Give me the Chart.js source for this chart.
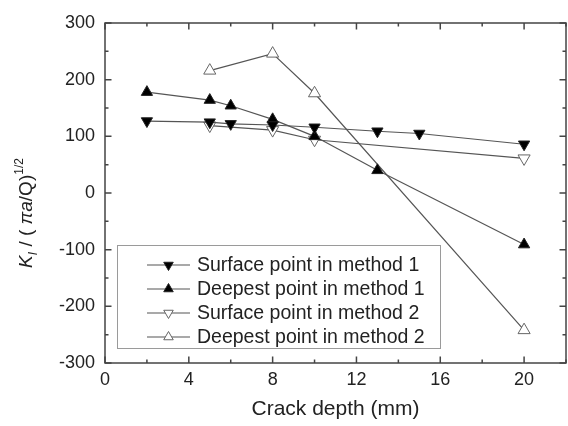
<!DOCTYPE html>
<html>
<head>
<meta charset="utf-8">
<script src="https://cdn.jsdelivr.net/npm/chart.js@4/dist/chart.umd.min.js"></script>
<style>
  html, body { margin: 0; padding: 0; background: #fff; }
  #wrap { width: 568px; height: 426px; }
</style>
</head>
<body>
<div id="wrap"><canvas id="chart" width="568" height="426"></canvas></div>
<script>
// crack depth (mm) and normalised SIF values
const xSurf1 = [2, 5, 6, 8, 10, 13, 15, 20];
const ySurf1 = [127, 125, 122, 120, 116, 109, 105, 86];
const xDeep1 = [2, 5, 6, 8, 10, 13, 20];
const yDeep1 = [178, 164, 154, 130, 100, 40, -91];
const xSurf2 = [5, 8, 10, 20];
const ySurf2 = [119, 111, 94, 61];
const xDeep2 = [5, 8, 10, 20];
const yDeep2 = [216, 246, 176, -242];

const seriesNames = [
    'Surface point in method 1',
    'Deepest point in method 1',
    'Surface point in method 2',
    'Deepest point in method 2'
];
const xTicks = [0, 4, 8, 12, 16, 20];
const yTicks = [-300, -200, -100, 0, 100, 200, 300];

const FONT = "'Liberation Sans', Arial, sans-serif";
const LINE = '#555';
const AXIS = '#444';

const toPts = (xs, ys) => xs.map((x, i) => ({ x: x, y: ys[i] }));

// how each series looks: filled/open, up/down
const styles = [
    { fill: '#000', stroke: '#222', rot: 180, r: 6.5 },
    { fill: '#000', stroke: '#222', rot: 0, r: 6.5 },
    { fill: '#fff', stroke: '#666', rot: 180, r: 7 },
    { fill: '#fff', stroke: '#666', rot: 0, r: 7 }
];

const makeSet = (label, data, s) => ({
    label: label,
    data: data,
    borderColor: LINE,
    borderWidth: 1.2,
    pointStyle: 'triangle',
    pointRotation: s.rot,
    pointRadius: s.r,
    pointBackgroundColor: s.fill,
    pointBorderColor: s.stroke,
    pointBorderWidth: 1,
    tension: 0,
    fill: false
});

const drawTri = (ctx, x, y, r, rot, fill, stroke) => {
    ctx.save();
    ctx.translate(x, y);
    ctx.rotate(rot * Math.PI / 180);
    ctx.beginPath();
    for (let k = 0; k < 3; k++) {
        const a = k * 2 * Math.PI / 3;
        const px = Math.sin(a) * r, py = -Math.cos(a) * r;
        if (k === 0) ctx.moveTo(px, py); else ctx.lineTo(px, py);
    }
    ctx.closePath();
    ctx.fillStyle = fill;
    ctx.fill();
    ctx.strokeStyle = stroke;
    ctx.lineWidth = 1;
    ctx.stroke();
    ctx.restore();
};

// frame with inward major/minor ticks on all four sides
const framePlugin = {
    id: 'frame',
    afterDatasetsDraw(chart) {
        const { ctx, chartArea: a, scales } = chart;
        const xs = scales.x, ys = scales.y;
        ctx.save();
        ctx.strokeStyle = AXIS;
        ctx.lineWidth = 1.5;
        ctx.strokeRect(a.left, a.top, a.right - a.left, a.bottom - a.top);
        ctx.beginPath();
        for (let v = 0; v <= 22; v += 2) {
            const len = v % 4 === 0 ? 6.5 : 3.5;
            const px = xs.getPixelForValue(v);
            ctx.moveTo(px, a.bottom); ctx.lineTo(px, a.bottom - len);
            ctx.moveTo(px, a.top); ctx.lineTo(px, a.top + len);
        }
        for (let v = -300; v <= 300; v += 50) {
            const len = v % 100 === 0 ? 6.5 : 3.5;
            const py = ys.getPixelForValue(v);
            ctx.moveTo(a.left, py); ctx.lineTo(a.left + len, py);
            ctx.moveTo(a.right, py); ctx.lineTo(a.right - len, py);
        }
        ctx.stroke();
        ctx.restore();
    }
};

// legend box inside the plot, line + marker like the original
const legendPlugin = {
    id: 'boxLegend',
    afterDraw(chart) {
        const ctx = chart.ctx;
        ctx.save();
        ctx.fillStyle = '#fff';
        ctx.fillRect(117, 245, 323, 103);
        ctx.strokeStyle = '#9a9a9a';
        ctx.lineWidth = 1;
        ctx.strokeRect(117.5, 245.5, 323, 103);
        ctx.font = '19.5px ' + FONT;
        ctx.textBaseline = 'middle';
        ctx.textAlign = 'left';
        seriesNames.forEach((name, i) => {
            const y = 265 + i * 24;
            ctx.strokeStyle = LINE;
            ctx.lineWidth = 1.2;
            ctx.beginPath();
            ctx.moveTo(147, y); ctx.lineTo(190, y);
            ctx.stroke();
            const s = styles[i];
            drawTri(ctx, 168.5, y, 5.5, s.rot, s.fill, s.stroke);
            ctx.fillStyle = '#222';
            ctx.fillText(name, 197, y + 1);
        });
        ctx.restore();
    }
};

// rotated y title: K_I / (πa/Q)^1/2 with italics, sub- and superscript
const yTitlePlugin = {
    id: 'yTitle',
    afterDraw(chart) {
        const ctx = chart.ctx;
        const big = 19, small = 12;
        const parts = [
            { t: 'K', f: 'italic ' + big + 'px ' + FONT, dy: 0 },
            { t: 'I', f: 'italic ' + small + 'px ' + FONT, dy: 5 },
            { t: ' / (', f: big + 'px ' + FONT, dy: 0 },
            { t: ' \u03C0a', f: 'italic ' + big + 'px ' + FONT, dy: 0 },
            { t: '/Q)', f: big + 'px ' + FONT, dy: 0 },
            { t: '1/2', f: small + 'px ' + FONT, dy: -9 }
        ];
        ctx.save();
        let total = 0;
        parts.forEach(p => { ctx.font = p.f; p.w = ctx.measureText(p.t).width; total += p.w; });
        ctx.translate(32, 213);
        ctx.rotate(-Math.PI / 2);
        ctx.fillStyle = '#222';
        ctx.textBaseline = 'alphabetic';
        let x = -total / 2;
        parts.forEach(p => {
            ctx.font = p.f;
            ctx.fillText(p.t, x, p.dy);
            x += p.w;
        });
        ctx.restore();
    }
};

const ctx = document.getElementById('chart').getContext('2d');
new Chart(ctx, {
    type: 'line',
    data: {
        datasets: [
            makeSet(seriesNames[0], toPts(xSurf1, ySurf1), styles[0]),
            makeSet(seriesNames[1], toPts(xDeep1, yDeep1), styles[1]),
            makeSet(seriesNames[2], toPts(xSurf2, ySurf2), styles[2]),
            makeSet(seriesNames[3], toPts(xDeep2, yDeep2), styles[3])
        ]
    },
    options: {
        responsive: false,
        animation: false,
        layout: { autoPadding: false, padding: { left: 0, right: 2, top: 23, bottom: 0 } },
        plugins: {
            legend: { display: false },
            tooltip: { enabled: false }
        },
        scales: {
            x: {
                type: 'linear',
                min: 0,
                max: 22,
                afterBuildTicks: (s) => { s.ticks = xTicks.map(v => ({ value: v })); },
                afterFit: (s) => {
                    s.height = 63;
                    s.paddingLeft = 0; s.paddingRight = 0;
                },
                grid: { display: false, drawTicks: false },
                border: { display: false },
                ticks: { color: '#222', padding: 6, font: { family: FONT, size: 18 } },
                title: {
                    display: true,
                    text: 'Crack depth (mm)',
                    color: '#222',
                    font: { family: FONT, size: 21 },
                    padding: { top: 5, bottom: 4 }
                }
            },
            y: {
                min: -300,
                max: 300,
                afterBuildTicks: (s) => { s.ticks = yTicks.map(v => ({ value: v })); },
                afterFit: (s) => {
                    s.width = 105;
                    s.paddingTop = 0; s.paddingBottom = 0;
                },
                grid: { display: false, drawTicks: false },
                border: { display: false },
                ticks: { color: '#222', padding: 10, font: { family: FONT, size: 18 } }
            }
        }
    },
    plugins: [framePlugin, legendPlugin, yTitlePlugin]
});
</script>
</body>
</html>
